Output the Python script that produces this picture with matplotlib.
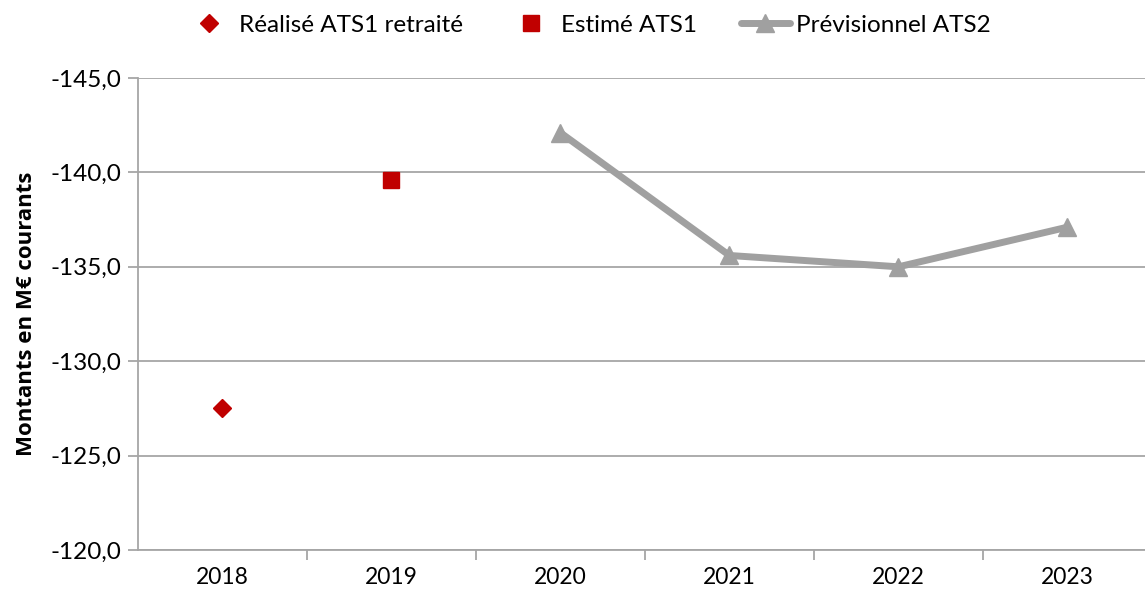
import matplotlib
matplotlib.use('Agg')
import matplotlib.pyplot as plt
from matplotlib.ticker import FuncFormatter, FixedLocator

# données
annees = ['2018', '2019', '2020', '2021', '2022', '2023']
realise = [-127.5]          # 2018
estime = [-139.6]           # 2019
previsionnel = [-142.1, -135.6, -135.0, -137.1]   # 2020-2023

plt.rcParams['font.family'] = ['Lato', 'DejaVu Sans']

fig = plt.figure(figsize=(11.45, 5.96), dpi=100)
ax = fig.add_axes([0.1205, 0.0772, 0.8856, 0.7919])

x = list(range(len(annees)))
gris_fonce = '#a0a0a0'
rouge = '#c00000'

ax.plot(x[0:1], realise, linestyle='none', marker='D', markersize=9,
        color=rouge, label='Réalisé ATS1 retraité')
ax.plot(x[1:2], estime, linestyle='none', marker='s', markersize=12,
        color=rouge, label='Estimé ATS1')
ax.plot(x[2:], previsionnel, color=gris_fonce, linewidth=5, marker='^',
        markersize=13, label='Prévisionnel ATS2', solid_capstyle='round')

ax.set_xlim(-0.5, 5.5)
ax.set_ylim(-120, -145)
ax.set_yticks([-120, -125, -130, -135, -140, -145])
ax.yaxis.set_major_formatter(FuncFormatter(lambda v, p: ('%.1f' % v).replace('.', ',')))
ax.yaxis.grid(True, color='#a6a6a6', linewidth=1.3)
ax.set_axisbelow(True)

ax.set_xticks(x)
ax.set_xticklabels(annees)
ax.xaxis.set_minor_locator(FixedLocator([0.5, 1.5, 2.5, 3.5, 4.5]))
ax.tick_params(axis='x', which='major', length=0, labelsize=16.5, pad=12)
ax.tick_params(axis='x', which='minor', length=7, color='#a6a6a6', width=1.3)
ax.tick_params(axis='y', length=7, color='#a6a6a6', width=1.3, labelsize=17.5, pad=5)

for s in ['top', 'right']:
    ax.spines[s].set_visible(False)
for s in ['left', 'bottom']:
    ax.spines[s].set_color('#a6a6a6')
    ax.spines[s].set_linewidth(1.3)

ax.set_ylabel('Montants en M€ courants', fontsize=16, fontweight='bold',
              family=['Open Sans', 'DejaVu Sans'], labelpad=10)

fig.legend(loc='upper center', bbox_to_anchor=(0.513, 1.012), ncol=3, frameon=False,
           fontsize=17.5, columnspacing=1.8, handletextpad=0.25, handlelength=2.0)

plt.savefig('out.png', dpi=100)
